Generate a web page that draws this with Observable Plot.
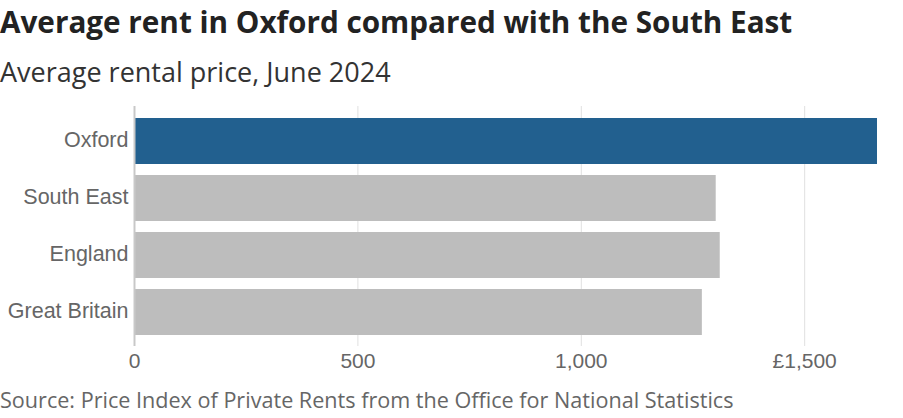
<!DOCTYPE html>
<html>
<head>
<meta charset="utf-8">
<script src="https://cdn.jsdelivr.net/npm/d3@7"></script>
<script src="https://cdn.jsdelivr.net/npm/@observablehq/plot@0.6"></script>
<style>
  html, body { margin: 0; padding: 0; background: #fff; }
  #wrap { width: 903px; height: 418px; position: relative; overflow: hidden; }
  h1 { font-family: "Open Sans", sans-serif; font-weight: 700; font-size: 29.7px; color: #222; margin: 0; position: absolute; left: 0; top: 0px; white-space: nowrap; line-height: 44px; }
  h2 { font-family: "Open Sans", sans-serif; font-weight: 400; font-size: 27px; color: #333; margin: 0; position: absolute; left: 0; top: 54px; white-space: nowrap; line-height: 36px; }
  #chart { position: absolute; left: 0; top: 95px; }
  #chart svg text { font-family: "Liberation Sans", Arial, sans-serif; }
  #src { font-family: "Open Sans", sans-serif; font-size: 21.6px; color: #666; position: absolute; left: 0; top: 385px; white-space: nowrap; line-height: 30px; }
</style>
</head>
<body>
<div id="wrap">
  <h1>Average rent in Oxford compared with the South East</h1>
  <h2>Average rental price, June 2024</h2>
  <div id="chart"></div>
  <div id="src">Source: Price Index of Private Rents from the Office for National Statistics</div>
</div>
<script>
const regions = ["Oxford", "South East", "England", "Great Britain"];
const rents = [1663, 1302, 1311, 1271];
const highlight = ["Oxford"];
const xTicks = [0, 500, 1000, 1500];
const xTickLabels = ["0", "500", "1,000", "£1,500"];

const data = regions.map((r, i) => ({region: r, rent: rents[i]}));

const chart = Plot.plot({
  width: 903,
  height: 282,
  marginLeft: 134,
  marginRight: 26,
  marginTop: 11,
  marginBottom: 31,
  style: {fontFamily: "Liberation Sans, Arial, sans-serif", fontSize: "21px", color: "#666", background: "transparent"},
  x: {domain: [0, d3.max(rents)], ticks: xTicks, label: null},
  y: {domain: regions, paddingInner: 0.2, paddingOuter: 0.2, label: null},
  marks: [
    Plot.ruleX(xTicks.slice(1), {stroke: "#e0e0e0", strokeWidth: 1}),
    Plot.barX(data, {
      x: "rent", y: "region",
      fill: d => highlight.includes(d.region) ? "#22608f" : "#bdbdbd"
    }),
    Plot.ruleX([0], {stroke: "#c8c8c8", strokeWidth: 2}),
    Plot.axisX({ticks: xTicks, tickSize: 0, tickPadding: 7, tickFormat: (d) => xTickLabels[xTicks.indexOf(d)], fontSize: 21, fill: "#666", label: null}),
    Plot.axisY({tickSize: 0, tickPadding: 6, dy: -1.5, fontSize: 21.5, fill: "#666", label: null})
  ]
});
document.getElementById("chart").appendChild(chart);
</script>
</body>
</html>
